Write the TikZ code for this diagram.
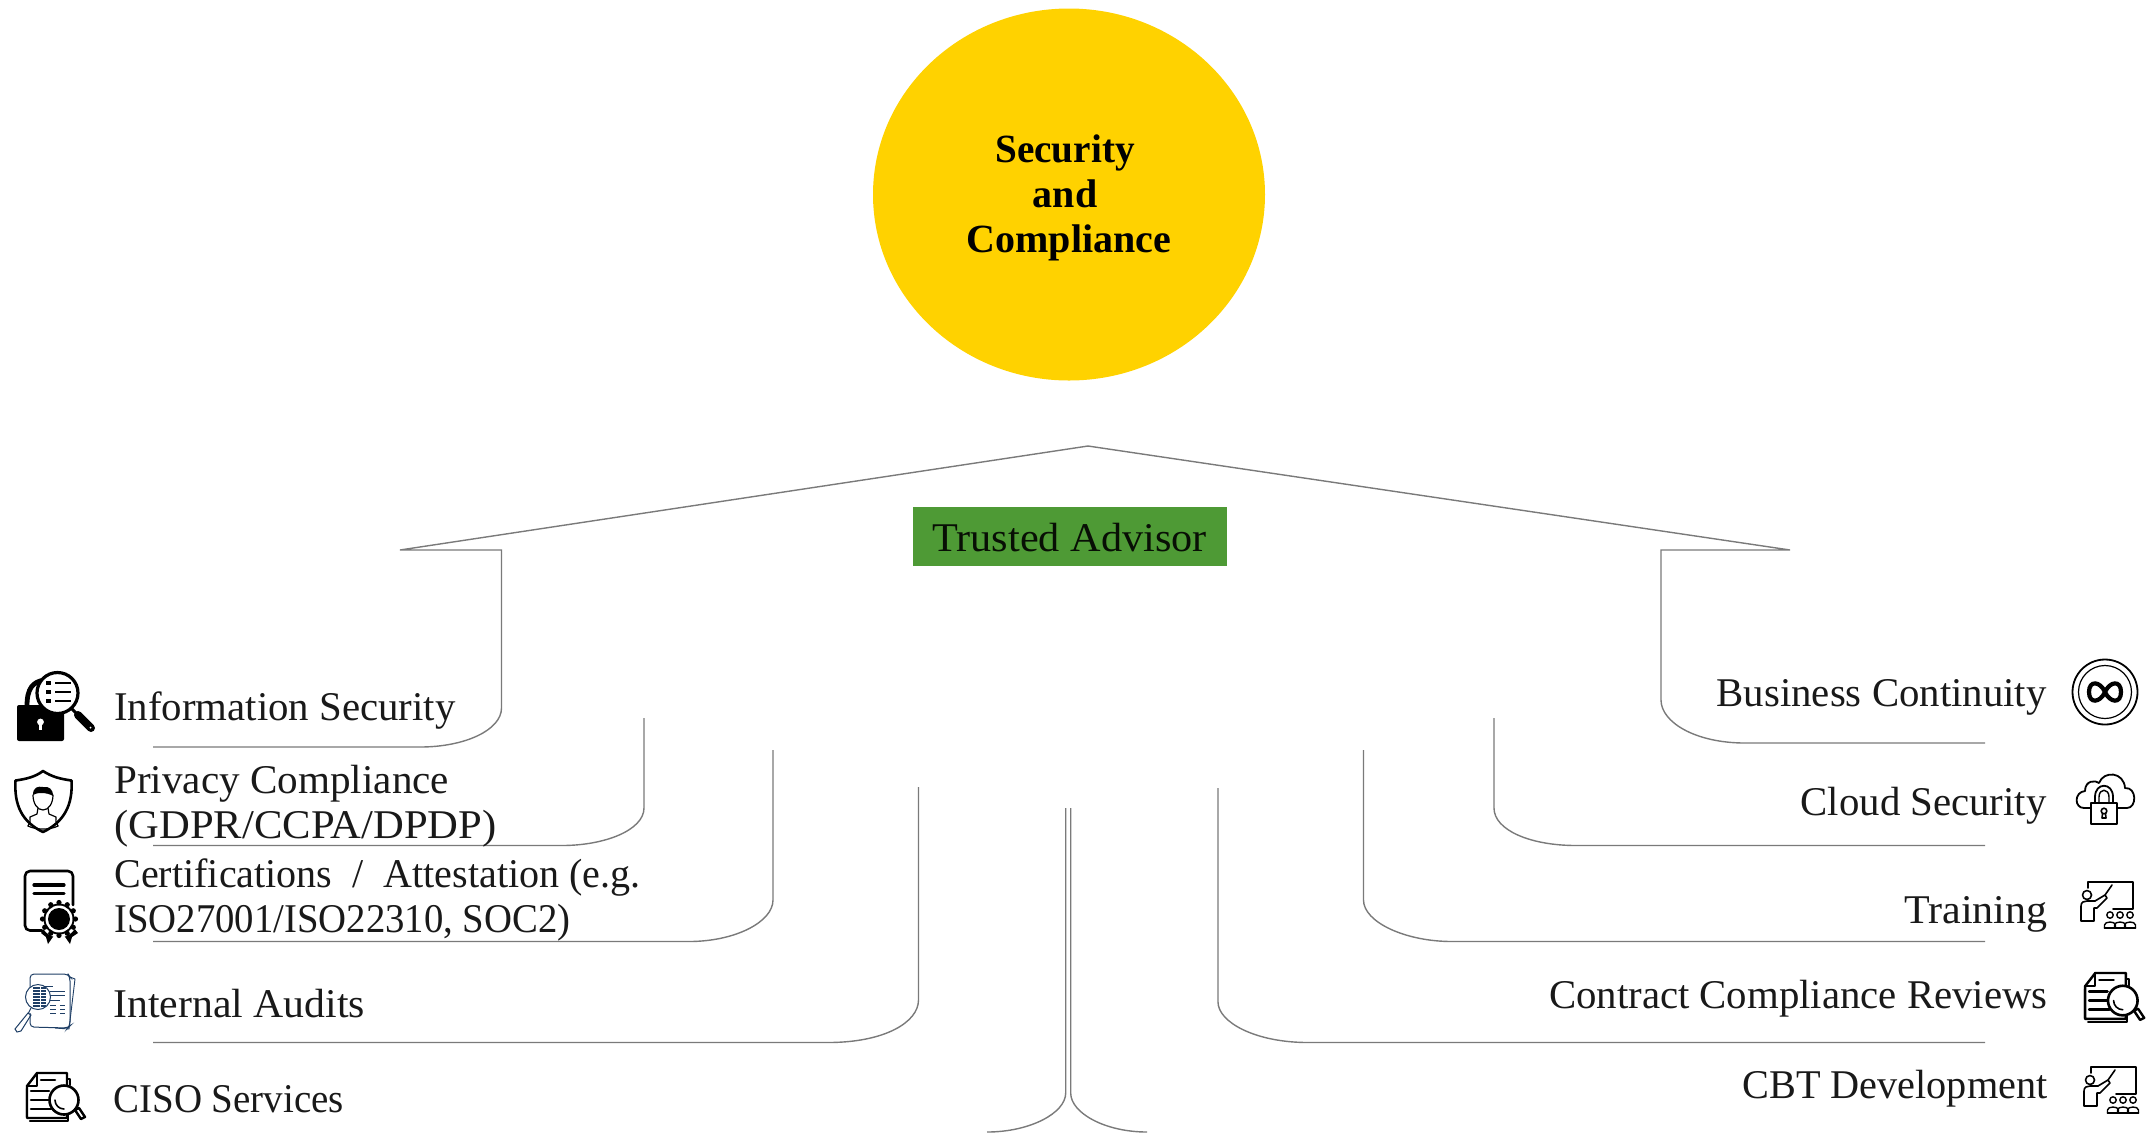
\documentclass[tikz,border=0pt]{standalone}
\usepackage{fontspec}
\usepackage{graphicx}
\usetikzlibrary{shapes.geometric}
\setmainfont{Liberation Serif}
\definecolor{goldy}{HTML}{FFD200}
\definecolor{leaf}{HTML}{4E9A35}
\definecolor{wire}{HTML}{7A7A7A}
\definecolor{navyicon}{HTML}{1F3F66}
\newcommand{\wdfit}[2]{\scalebox{#1}[1]{#2}}
\tikzset{
  wire/.style={draw=wire,line width=0.7pt,line join=miter},
  txtl/.style={anchor=base west,inner sep=0pt,font=\fontsize{20.4}{24}\selectfont,text=black!90},
  txtr/.style={anchor=base east,inner sep=0pt,font=\fontsize{20.4}{24}\selectfont,text=black!90},
  headline/.style={anchor=base,inner sep=0pt,font=\bfseries\fontsize{20}{24}\selectfont,text=black},
  ink/.style={draw=black,line width=1pt,line join=round,line cap=round},
  fine/.style={draw=black,line width=0.6pt,line join=round,line cap=round},
  docglass/.pic={
    \draw[ink,line width=1.2pt] (12,4) -- (12,44) -- (2,44) -- (2,16) -- (12,4);
    \draw[ink,line width=1.2pt,fill=white] (5,48) -- (43,48) -- (43,40);
    \draw[ink,line width=1.2pt,fill=white] (12,0) -- (42,0) -- (42,36) -- (42,45) -- (2,45) -- (2,13) -- cycle;
    \draw[ink,line width=1.2pt] (2,13) -- (12,13) -- (12,0);
    \draw[ink] (42,6) -- (45,6) -- (45,12);
    \draw[ink,line width=1.3pt] (16,7) -- (30,7);
    \draw[ink,line width=1.3pt] (6,18) -- (24,18);
    \draw[ink,line width=1.3pt] (6,27) -- (24,27);
    \draw[ink,line width=1.3pt] (6,36) -- (26,36);
    \draw[ink,line width=1.3pt,fill=white] (39,27) circle (14.5);
    \draw[ink,line width=.8pt] (30,27) arc (180:90:9);
    \draw[ink,line width=1.2pt,fill=white] (50,37) -- (56,46) -- (60,44) -- (54,35) -- cycle;
  },
  trainicon/.pic={
    \draw[fine,line width=.8pt] (1,0) -- (46,0) -- (46,27) -- (26,27);
    \draw[fine,line width=.8pt] (1,0) -- (1,6);
    \draw[fine,line width=.8pt] (0,13) circle (4.5);
    \draw[fine,line width=.8pt] (-6,39) -- (-6,24) .. controls (-6,20) and (-3,19) .. (0,19) -- (8,19) -- (18,13) -- (20,16) -- (10,26) -- (7,26) -- (7,39) -- cycle;
    \draw[fine,line width=.8pt] (18,13) -- (25,3);
    \foreach \q in {23,33,43}{
      \draw[fine,line width=.7pt,fill=white] (\q,33) circle (3.2);
      \draw[fine,line width=.7pt] (\q-5.5,46) -- (\q-5.5,43) .. controls (\q-5.5,39) and (\q+5.5,39) .. (\q+5.5,43) -- (\q+5.5,46);
    }
    \draw[fine,line width=.8pt] (17.5,46) -- (48.5,46);
  },
}
\begin{document}
\begin{tikzpicture}[x=0.5pt,y=-0.5pt]
\useasboundingbox (0,0) rectangle (2149,1132);

% circle and box
\node[ellipse,draw=none,fill=goldy,minimum width=196pt,minimum height=186pt,inner sep=0pt] (sun) at (1069,194.5) {};
\node[headline] (s1) at (1065,162.5) {\wdfit{.98}{Security}};
\node[headline] (s2) at (1065,207.5) {and};
\node[headline] (s3) at (1069,252.5) {Compliance};
\node[fill=leaf,draw=none,minimum width=157pt,minimum height=29.5pt,inner sep=0pt] (advisor) at (1069.5,536.5) {};
\node[inner sep=0pt,font=\fontsize{20.4}{24}\selectfont,text=black!90!leaf] (advtext) at (1069.5,537.5) {\wdfit{1.036}{Trusted Advisor}};

% connector end points
\coordinate (roofL) at (400,550);
\coordinate (roofT) at (1088,446);
\coordinate (roofR) at (1790,550);
\coordinate (a0) at (153,747);
\coordinate (b0) at (153,845.5);
\coordinate (c0) at (153,941.5);
\coordinate (d0) at (153,1042.5);
\coordinate (a1) at (1985,743);
\coordinate (b1) at (1985,845.5);
\coordinate (c1) at (1985,941.5);
\coordinate (d1) at (1985,1042.5);

% roof with the outer brackets
\draw[wire] (a0) -- (420,747) .. controls (465,747) and (501.5,730) .. (501.5,708) -- (501.5,550) -- (roofL) -- (roofT) -- (roofR) -- (1661,550) -- (1661,700) .. controls (1661,722) and (1695,743) .. (1745,743) -- (a1);
% left
\draw[wire] (644,718) -- (644,808) .. controls (644,830) and (605,845.5) .. (562,845.5) -- (b0);
\draw[wire] (773,750) -- (773,900) .. controls (773,922) and (735,941.5) .. (689,941.5) -- (c0);
\draw[wire] (918.5,787) -- (918.5,1000) .. controls (918.5,1022) and (885,1042.5) .. (828,1042.5) -- (d0);
% right
\draw[wire] (1494,718) -- (1494,808) .. controls (1494,830) and (1530,845.5) .. (1576,845.5) -- (b1);
\draw[wire] (1363.5,750) -- (1363.5,900) .. controls (1363.5,922) and (1405,941.5) .. (1452,941.5) -- (c1);
\draw[wire] (1218,788) -- (1218,1002) .. controls (1218,1022) and (1255,1042.5) .. (1308,1042.5) -- (d1);
% centre
\draw[wire] (1065.7,808) -- (1065.7,1093) .. controls (1065.7,1113) and (1030,1132) .. (987,1132);
\draw[wire] (1070.7,808) -- (1070.7,1093) .. controls (1070.7,1113) and (1105,1132) .. (1147,1132);

% labels left
\node[txtl] (l1) at (114,720) {Information Security};
\node[txtl] (l2a) at (114,793) {\wdfit{1.008}{Privacy Compliance}};
\node[txtl] (l2b) at (114,838) {\wdfit{1.045}{(GDPR/CCPA/DPDP)}};
\node[txtl] (l3a) at (114,887) {\wdfit{.982}{Certifications\ \ /\ \ Attestation (e.g.}};
\node[txtl] (l3b) at (114,932) {\wdfit{.949}{ISO27001/ISO22310, SOC2)}};
\node[txtl] (l4) at (113,1017) {\wdfit{1.023}{Internal Audits}};
\node[txtl] (l5) at (113,1112) {\wdfit{.955}{CISO Services}};
% labels right
\node[txtr] (r1) at (2047,706) {Business Continuity};
\node[txtr] (r2) at (2047,815) {Cloud Security};
\node[txtr] (r3) at (2048,923) {\wdfit{1.03}{Training}};
\node[txtr] (r4) at (2048,1008) {Contract Compliance Reviews};
\node[txtr] (r5) at (2048,1098) {\wdfit{.987}{CBT Development}};

% icon: lock and magnifier
\fill[rounded corners=1pt] (17,705) rectangle (64,741);
\draw[line width=2.4pt] (27,706) .. controls (27,688) and (33,682) .. (44,680);
\fill[white] (40.5,722) circle (3.4);
\fill[white] (39,722) rectangle (42,730);
\draw[line width=1.6pt,fill=white] (57.5,693) circle (20.5);
\foreach \q in {683,692,701}{
  \fill (46,\q-2) rectangle (51,\q+2);
  \draw[line width=1.2pt] (55,\q) -- (71,\q);
}
\draw[line width=1.5pt] (72,709) -- (78,715);
\draw[line width=4pt,line cap=round] (78,715) -- (91,728);
\fill[white] (90.5,727.5) circle (1);

% icon: shield with person
\draw[ink,line width=1.3pt] (43,771) .. controls (35,777) and (26,779) .. (15.5,780.5) .. controls (14,805) and (22,822) .. (43,832) .. controls (64,822) and (73,805) .. (71.5,780.5) .. controls (61,779) and (52,777) .. cycle;
\draw[fine] (33,795) .. controls (33,803) and (37,810) .. (43,810) .. controls (49,810) and (53,803) .. (53,795);
\fill (33,795) .. controls (33,787) and (38,786) .. (43,787) .. controls (49,786) and (53,789) .. (53,796) .. controls (50,794) and (46,793) .. (41,793) .. controls (37,793) and (35,794) .. cycle;
\draw[fine] (38,808) -- (37,814) -- (30,817) .. controls (31,820) and (30,822) .. (28,826);
\draw[fine] (48,808) -- (49,814) -- (56,817) .. controls (55,820) and (56,822) .. (58,826);
\draw[fine] (28,826) .. controls (36,830) and (50,830) .. (58,826);

% icon: certificate
\draw[ink,line width=1.3pt,rounded corners=2.5pt] (42,930.5) -- (25,930.5) -- (25,871) -- (73,871) -- (73,905);
\draw[ink,line width=1.6pt] (34,885) -- (64,885);
\draw[ink,line width=1.6pt] (34,893.5) -- (64,893.5);
\fill (41,933) -- (48,923) -- (57,931) -- (48,944) -- (46,937) -- cycle;
\fill (78,933) -- (70,923) -- (61,931) -- (70,944) -- (72,937) -- cycle;
\fill[white] (59,919) circle (18.5);
\foreach \a in {0,30,...,330}{\fill (59,919) ++(\a:16.5) circle (2.6);}
\fill (59,919) circle (15.5);
\fill[white] (59,919) circle (13.5);
\fill (59,919) circle (11);

% icon: audit sheets
\begin{scope}[navyicon]
\draw[line width=.45pt] (70,977) -- (75,979) -- (69,1029) -- (55,1028);
\draw[line width=.5pt,rounded corners=2pt] (30,1000) -- (30,974) -- (68,974) -- (70,977) -- (70,1026) -- (68,1028) -- (30,1027) -- (30,1013);
\draw[line width=.4pt] (42,986) -- (53,986);
\draw[line width=.4pt] (50,991) -- (65,991);
\draw[line width=.4pt] (50,995) -- (65,995);
\draw[line width=.4pt] (50,1000) -- (60,1000);
\draw[line width=.4pt,densely dashed] (50,1005) -- (65,1005);
\draw[line width=.4pt,densely dashed] (50,1009) -- (65,1009);
\draw[line width=.4pt,densely dashed] (50,1013) -- (65,1013);
\draw[line width=.5pt,fill=white] (38,997) circle (12.5);
\foreach \q in {987,990,993,996,999,1002,1005}{\fill (33,\q) rectangle (46,\q+1.7);}
\draw[white,line width=.4pt] (40,986) -- (40,1008);
\draw[line width=.5pt] (31,1008) -- (28,1014);
\draw[line width=.5pt] (28,1013) -- (31,1015) -- (21,1031) -- (17,1032) -- (15,1029) -- cycle;
\end{scope}

% icon: papers with magnifier
\pic at (25,1073) {docglass};
\pic[scale=1.02] at (2083,973) {docglass};

% icon: continuity
\draw[line width=.9pt] (2105,692) circle (32.5);
\draw[line width=.6pt] (2105,692) circle (26.5);
\draw[line width=2.1pt] (2105,692) .. controls (2110,681) and (2121,680) .. (2121,692) .. controls (2121,704) and (2110,703) .. (2105,692) .. controls (2100,681) and (2089,680) .. (2089,692) .. controls (2089,704) and (2100,703) .. cycle;

% icon: cloud with padlock
\draw[fine,line width=.9pt] (2090,808) -- (2084,808) .. controls (2074,808) and (2074,792) .. (2085,791) .. controls (2085,780) and (2096,780) .. (2099,783) .. controls (2104,770) and (2124,772) .. (2125,788) .. controls (2137,787) and (2137,808) .. (2127,808) -- (2118,808);
\draw[fine,line width=.9pt] (2091,803) -- (2091,824) -- (2117,824) -- (2117,803) -- cycle;
\draw[fine,line width=.9pt] (2095,803) -- (2095,797) .. controls (2095,782) and (2113,782) .. (2113,797) -- (2113,803);
\draw[fine,line width=.7pt] (2099,803) -- (2099,797) .. controls (2099,788) and (2109,788) .. (2109,797) -- (2109,803);
\draw[fine,line width=.8pt] (2104,811) circle (2.8);
\draw[fine,line width=.8pt] (2102.5,814) -- (2102,818) -- (2106,818) -- (2105.5,814);

% icons: training
\pic at (2087,882) {trainicon};
\pic at (2090,1067) {trainicon};
\end{tikzpicture}
\end{document}
